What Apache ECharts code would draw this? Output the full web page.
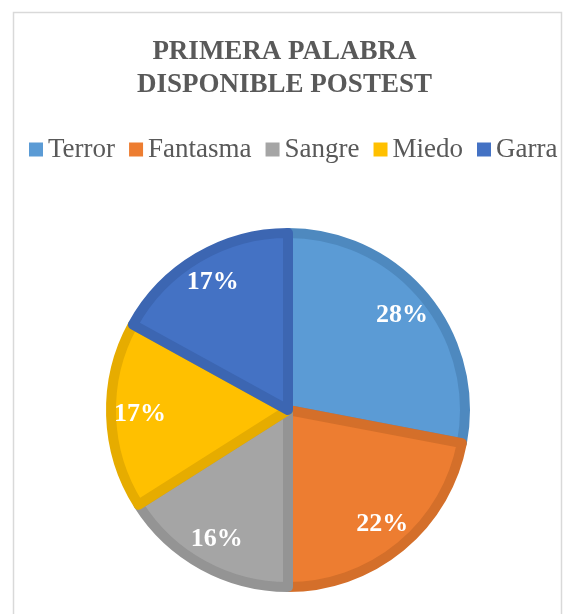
<!DOCTYPE html>
<html>
<head>
<meta charset="utf-8">
<script src="https://cdn.jsdelivr.net/npm/echarts@6/dist/echarts.min.js"></script>
<style>
  html, body { margin: 0; padding: 0; background: #fff; }
  #chart { width: 569px; height: 614px; }
</style>
</head>
<body>
<div id="chart"></div>
<script>
const categories = ['Terror', 'Fantasma', 'Sangre', 'Miedo', 'Garra']
const values = [28, 22, 16, 17, 17]
const fillColors = ['#5B9BD5', '#ED7D31', '#A5A5A5', '#FFC000', '#4472C4']
const edgeColors = ['#4E89BF', '#D46F2A', '#949494', '#E6AC00', '#3C66B2']

const serif = '"Liberation Serif", "DejaVu Serif", serif'
const center = [288, 410]

const chart = echarts.init(document.getElementById('chart'))

chart.setOption({
  backgroundColor: '#fff',
  animation: false,
  graphic: [{
    type: 'rect',
    shape: { x: 13.5, y: 12.5, width: 548, height: 620 },
    style: { fill: 'none', stroke: '#d9d9d9', lineWidth: 1.5 },
    silent: true,
  }],
  title: {
    text: 'PRIMERA PALABRA\nDISPONIBLE POSTEST',
    left: 'center',
    top: 31,
    textStyle: {
      fontFamily: serif,
      fontWeight: 'bold',
      fontSize: 27,
      lineHeight: 33,
      color: '#595959',
    },
  },
  legend: {
    top: 131,
    left: 24,
    icon: 'rect',
    itemWidth: 14,
    itemHeight: 14,
    itemGap: 14,
    data: categories,
    itemStyle: { borderWidth: 0 },
    textStyle: { fontFamily: serif, fontSize: 27, color: '#595959' },
  },
  series: [
    {
      type: 'pie',
      center,
      radius: 177,
      startAngle: 90,
      clockwise: true,
      silent: true,
      itemStyle: { borderWidth: 10 },
      label: { show: false },
      labelLine: { show: false },
      data: categories.map((name, i) => ({
        name, value: values[i],
        itemStyle: { color: fillColors[i], borderColor: edgeColors[i] },
      })),
    },
    {
      // label carrier: inside labels sit at (r0 + r) / 2 = 145
      type: 'pie',
      center,
      radius: [106, 184],
      startAngle: 90,
      clockwise: true,
      silent: true,
      itemStyle: { color: 'rgba(0,0,0,0)', borderWidth: 0 },
      label: {
        show: true,
        position: 'inside',
        formatter: '{d}%',
        fontFamily: serif,
        fontWeight: 'bold',
        fontSize: 26,
        color: '#fff',
      },
      labelLine: { show: false },
      data: categories.map((name, i) => ({ name, value: values[i] })),
      legendHoverLink: false,
    },
  ],
})
</script>
</body>
</html>
